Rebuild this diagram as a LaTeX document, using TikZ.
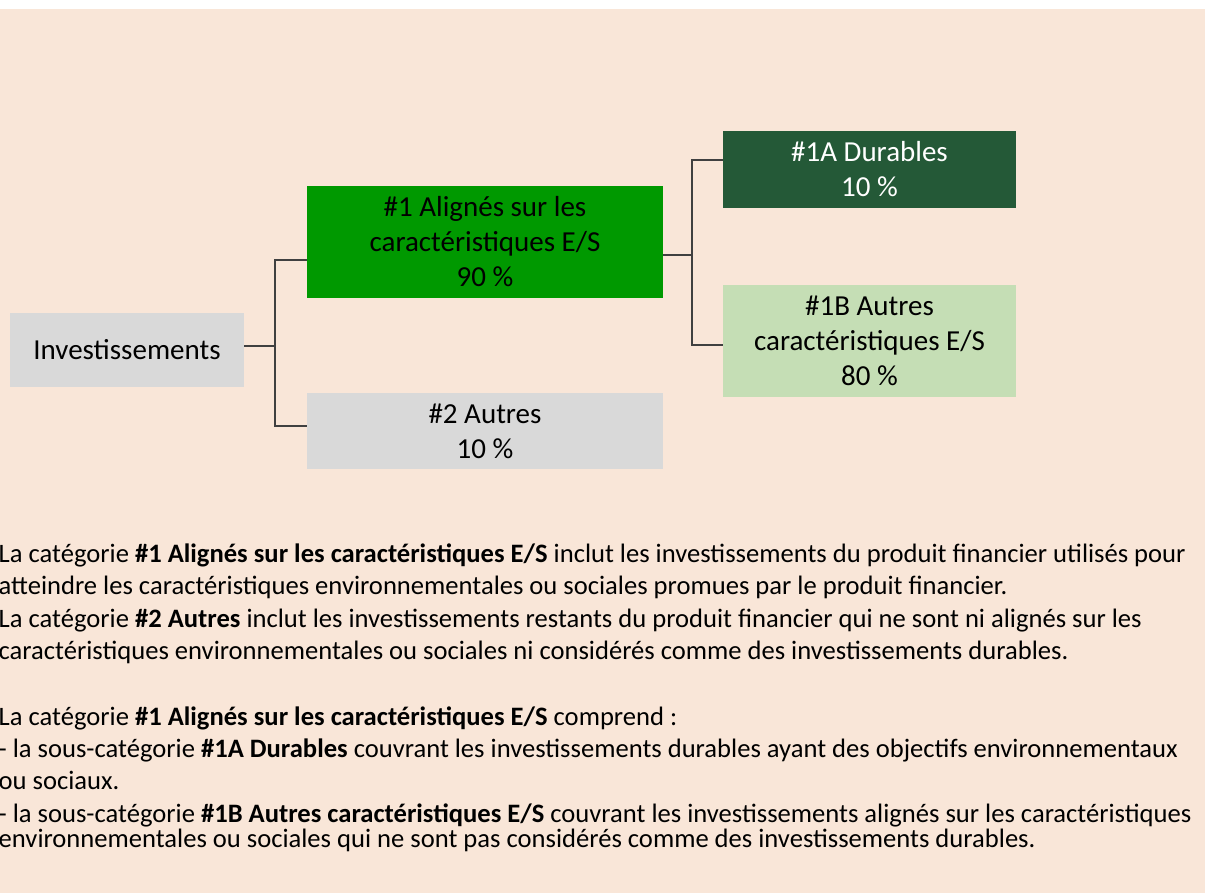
\documentclass[tikz,border=0pt]{standalone}
\usepackage{fontspec}
\setmainfont{Carlito}
\usetikzlibrary{calc}
\definecolor{peach}{HTML}{F9E6D8}
\definecolor{boxgray}{HTML}{D9D9D9}
\definecolor{midgreen}{HTML}{009900}
\definecolor{darkgreen}{HTML}{245937}
\definecolor{lightgreen}{HTML}{C5DEB5}
\definecolor{connc}{HTML}{404040}
\tikzset{
  box/.style={rectangle, inner sep=0pt, align=center, font=\fontsize{29}{35}\selectfont, text=black},
  conn/.style={draw=connc, line width=2.5pt},
  para/.style={anchor=base west, inner sep=0pt, font=\fontsize{26.6}{32}\selectfont, text=black},
}
\begin{document}
\begin{tikzpicture}[x=1pt,y=-1pt]
\useasboundingbox (0,0) rectangle (1205,893);
\fill[peach] (0,9) rectangle (1205,893);
\node[box, fill=boxgray, minimum width=234pt, minimum height=74pt] (inv) at (127,350) {Investissements};
\node[box, fill=midgreen, minimum width=356pt, minimum height=112pt] (g1) at (485,242) {\#1 Alignés sur les\\caractéristiques E/S\\90 \%};
\node[box, fill=boxgray, minimum width=356pt, minimum height=76pt] (o2) at (485,431) {\#2 Autres\\10 \%};
\node[box, fill=darkgreen, text=white, minimum width=293pt, minimum height=77pt] (d1a) at (869.5,169.5) {\#1A Durables\\10 \%};
\node[box, fill=lightgreen, minimum width=293pt, minimum height=112pt] (a1b) at (869.5,341) {\#1B Autres\\caractéristiques E/S\\80 \%};
\draw[conn] ([yshift=4pt]inv.east) -- ++(31,0) coordinate (j1);
\draw[conn] ([yshift=-18pt]g1.west) -| (j1) |- ([yshift=5pt]o2.west);
\draw[conn] ([yshift=-13pt]g1.east) -- ++(29,0) coordinate (j2);
\draw[conn] ([yshift=9.5pt]d1a.west) -| (j2) |- ([yshift=-4pt]a1b.west);
\node[para] (p1) at (-1.5,562) {La catégorie \textbf{\#1 Alignés sur les caractéristiques E/S} inclut les investissements du produit financier utilisés pour};
\node[para] (p2) at (-1.5,594.5) {atteindre les caractéristiques environnementales ou sociales promues par le produit financier.};
\node[para] (p3) at (-1.5,627) {La catégorie \textbf{\#2 Autres} inclut les investissements restants du produit financier qui ne sont ni alignés sur les};
\node[para] (p4) at (-1.5,659) {caractéristiques environnementales ou sociales ni considérés comme des investissements durables.};
\node[para] (p5) at (-1.5,725) {La catégorie \textbf{\#1 Alignés sur les caractéristiques E/S} comprend :};
\node[para] (p6) at (-1.5,757.5) {- la sous-catégorie \textbf{\#1A Durables} couvrant les investissements durables ayant des objectifs environnementaux};
\node[para] (p7) at (-1.5,789.5) {ou sociaux.};
\node[para] (p8) at (-1.5,822.5) {- la sous-catégorie \textbf{\#1B Autres caractéristiques E/S} couvrant les investissements alignés sur les caractéristiques};
\node[para] (p9) at (-1.5,847) {environnementales ou sociales qui ne sont pas considérés comme des investissements durables.};
\end{tikzpicture}
\end{document}
